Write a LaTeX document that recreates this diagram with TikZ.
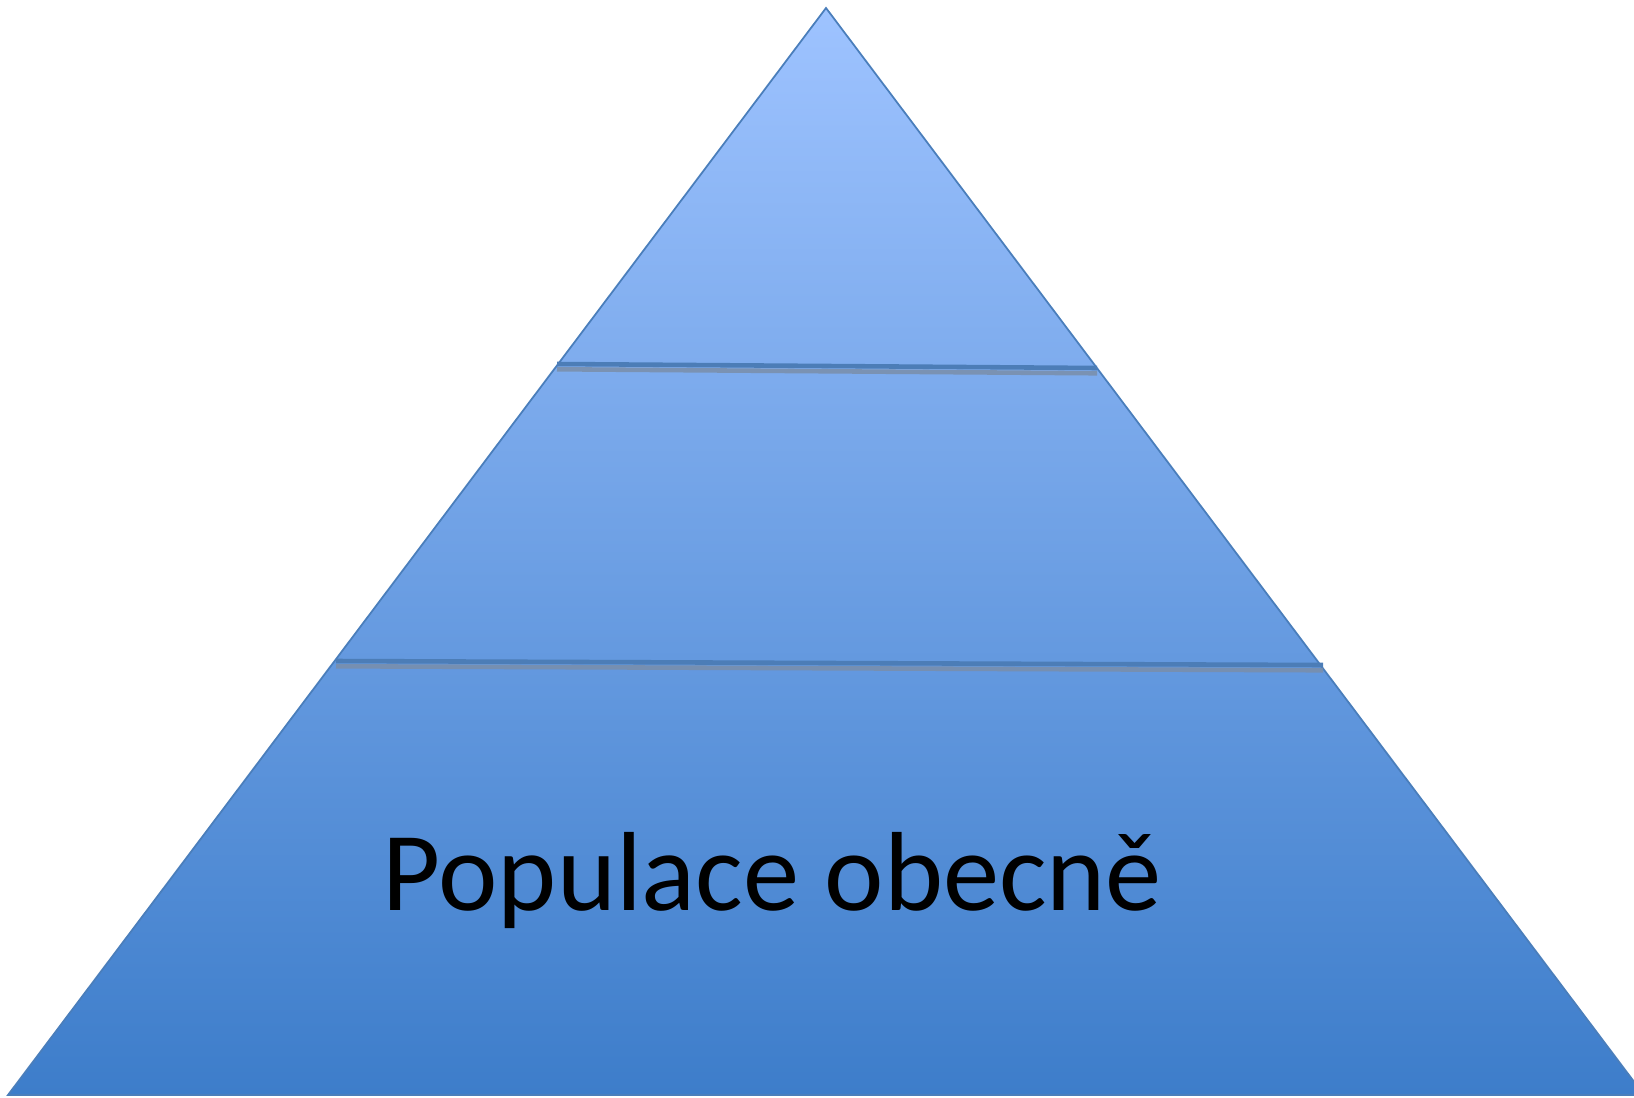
\documentclass[tikz,border=0pt]{standalone}
\usepackage{fontspec}
\setmainfont{Carlito}
\usetikzlibrary{positioning}

\definecolor{pyrtop}{RGB}{158,195,255}
\definecolor{pyrbot}{RGB}{61,125,202}
\definecolor{pyredge}{RGB}{74,126,187}
\definecolor{tierline}{RGB}{76,125,183}
\definecolor{tiershadow}{RGB}{122,142,170}

\begin{document}
\begin{tikzpicture}[
        x=0.01cm, y=-0.01cm,
        pyramid/.style={
            top color=pyrtop,
            bottom color=pyrbot,
            draw=pyredge,
            line width=0.5pt
        },
        tier/.style={
            draw=tierline,
            line width=1.3pt
        },
        tiershade/.style={
            draw=tiershadow,
            line width=1.3pt,
            opacity=0.85
        },
        label/.style={
            font=\fontsize{32}{38}\selectfont,
            text=black,
            inner sep=0pt
        }
    ]
        % Canvas
        \useasboundingbox (0,0) rectangle (1634,1097);
        \clip (0,0) rectangle (1634,1097);

        % Pyramid corners
        \coordinate (apex) at (826,8);
        \coordinate (baseL) at (8,1095);
        \coordinate (baseR) at (1644,1095);

        \path[pyramid] (apex) -- (baseR) -- (baseL) -- cycle;

        % Tier ends
        \coordinate (upL) at (557,364);
        \coordinate (upR) at (1097,368);
        \coordinate (lowL) at (336,661);
        \coordinate (lowR) at (1323,665);

        % Tier dividers with shadow
        \draw[tiershade] ([yshift=-1.5pt]upL) -- ([yshift=-1.5pt]upR);
        \draw[tier] (upL) -- (upR);
        \draw[tiershade] ([yshift=-1.5pt]lowL) -- ([yshift=-1.5pt]lowR);
        \draw[tier] (lowL) -- (lowR);

        % Base tier label
        \node[label, anchor=base west] (popul) at (382,910) {Populace obecně};
    \end{tikzpicture}
\end{document}
